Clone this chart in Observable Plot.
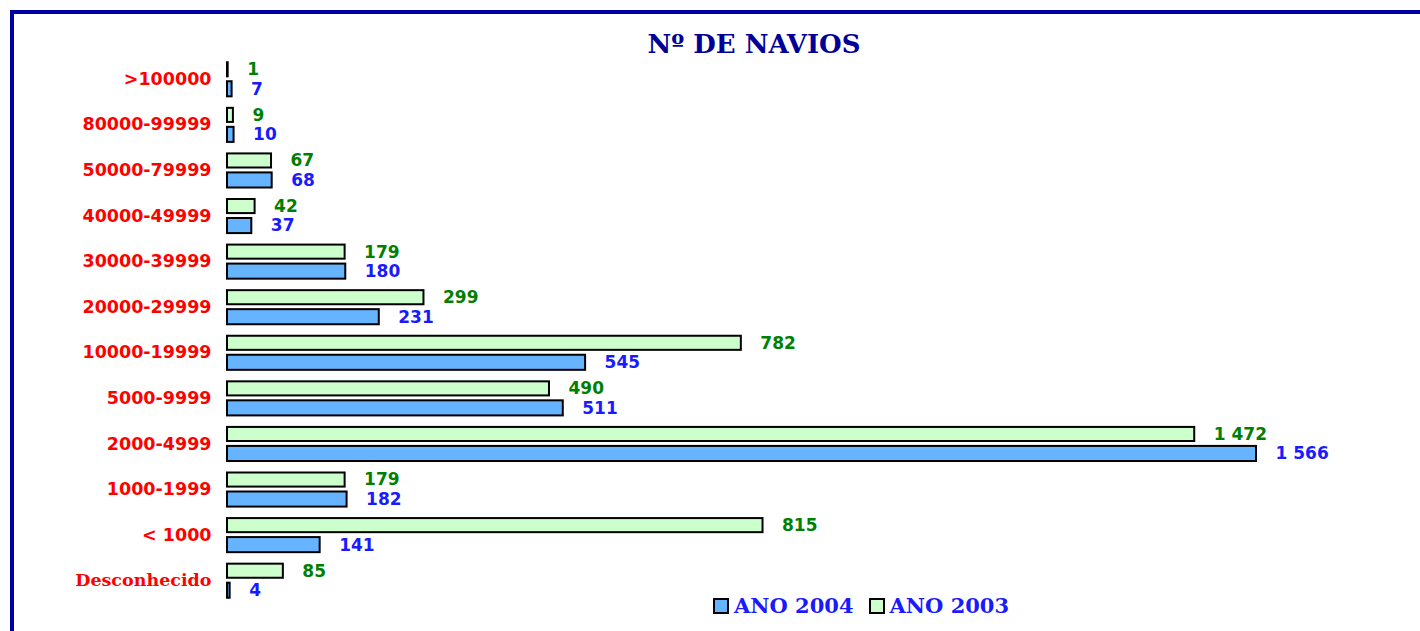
<!DOCTYPE html>
<html><head><meta charset="utf-8">
<script src="https://cdn.jsdelivr.net/npm/d3@7"></script>
<script src="https://cdn.jsdelivr.net/npm/@observablehq/plot@0.6"></script>
<style>
html,body{margin:0;padding:0;overflow:hidden;background:#fff;width:1420px;height:631px;}
#frame{position:absolute;left:10px;top:10px;width:1500px;height:700px;border:4px solid #0000a0;box-sizing:border-box;}
#title{position:absolute;left:554px;width:400px;top:27px;text-align:center;font-family:"DejaVu Serif";font-weight:bold;font-size:26px;line-height:34px;color:#000099;}
#chart{position:absolute;left:0;top:56px;}
#legend{position:absolute;left:713px;top:594px;display:flex;align-items:center;font-family:"DejaVu Serif";font-weight:bold;font-size:21px;color:#1a1aff;line-height:24px;}
#legend .sw{width:12px;height:12px;border:2px solid #000;margin-right:5px;}
#legend .item{display:flex;align-items:center;margin-right:15px;}
</style>
</head><body>
<div id="frame"></div>
<div id="title">Nº DE NAVIOS</div>
<div id="chart"></div>
<div id="legend"></div>
<script>
const categories = [">100000","80000-99999","50000-79999","40000-49999","30000-39999","20000-29999","10000-19999","5000-9999","2000-4999","1000-1999","< 1000","Desconhecido"];
const ano2003 = [1,9,67,42,179,299,782,490,1472,179,815,85];
const ano2004 = [7,10,68,37,180,231,545,511,1566,182,141,4];
const seriesNames = ["ANO 2004","ANO 2003"];
const seriesColors = ["#66b3ff","#ccffcc"];

const data = categories.map((c,i)=>({cat:c, v2003:ano2003[i], v2004:ano2004[i]}));
const fmt = d3.formatLocale({decimal:",", thousands:" ", grouping:[3], currency:["",""]}).format(",d");

const plot = Plot.plot({
  width:1420, height:547,
  marginLeft:227, marginRight:164, marginTop:0, marginBottom:0,
  x:{domain:[0,1566], axis:null},
  y:{domain:categories, padding:0, round:false},
  style:{background:"transparent", overflow:"visible", fontFamily:"DejaVu Sans"},
  marks:[
    Plot.axisY({tickSize:0, tickPadding:16, fill:"#ff0000", fontWeight:"bold", fontSize:17.5, label:null}),
    Plot.barX(data,{x:"v2003", y:"cat", fill:seriesColors[1], stroke:"#000", strokeWidth:2, insetTop:6.25, insetBottom:25.25}),
    Plot.barX(data,{x:"v2004", y:"cat", fill:seriesColors[0], stroke:"#000", strokeWidth:2, insetTop:25.25, insetBottom:5.25}),
    Plot.text(data,{x:"v2003", y:"cat", text:d=>fmt(d.v2003), dx:19, dy:-9.5, textAnchor:"start", fill:"#008000", fontWeight:"bold", fontSize:17}),
    Plot.text(data,{x:"v2004", y:"cat", text:d=>fmt(d.v2004), dx:19, dy:10, textAnchor:"start", fill:"#1a1aff", fontWeight:"bold", fontSize:17})
  ]
});
document.getElementById("chart").appendChild(plot);
d3.select(plot).selectAll("text").each(function(){
  if (this.textContent === "Desconhecido") {
    d3.select(this).attr("font-family","DejaVu Serif").attr("font-size",17.5);
  }
});
const leg = d3.select("#legend");
seriesNames.forEach((n,i)=>{
  const it = leg.append("div").attr("class","item");
  it.append("div").attr("class","sw").style("background",seriesColors[i]);
  it.append("span").text(n);
});
</script>
</body></html>
